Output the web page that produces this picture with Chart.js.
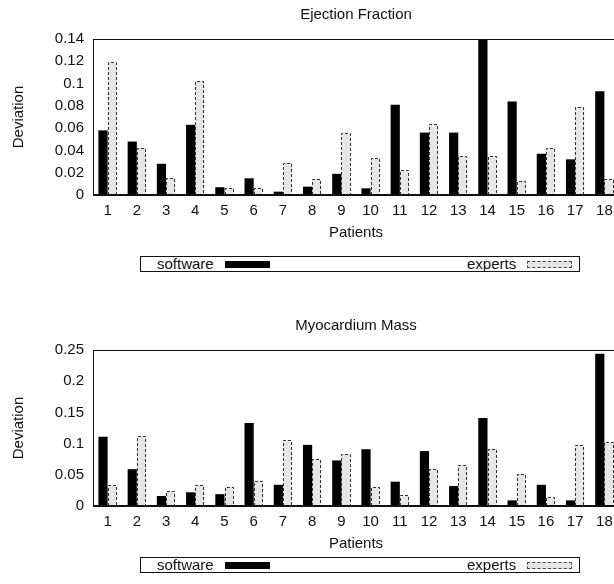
<!DOCTYPE html>
<html>
<head>
<meta charset="utf-8">
<script src="https://cdn.jsdelivr.net/npm/chart.js@4.4.1/dist/chart.umd.min.js"></script>
<style>
  html, body { margin: 0; padding: 0; background: #fff; overflow: hidden; }
  #page { position: relative; width: 614px; height: 584px; overflow: hidden; font-family: "Liberation Sans", Arial, sans-serif; color: #111; }
  .plot { position: absolute; left: 0; width: 640px; height: 250px; }
  .legend { position: absolute; left: 140px; width: 438px; height: 14px; border: 1px solid #111; font-size: 15px; line-height: 14px; }
  .legend span { position: absolute; top: 0; }
  .sw { position: absolute; top: 4px; width: 45px; height: 7px; box-sizing: border-box; }
  .sw.soft { left: 84px; background: #000; }
  .sw.exp { left: 386px; background: #e6e6e6; border: 1px dashed #444; }
</style>
</head>
<body>
<div id="page">
  <div class="plot" style="top:0"><canvas id="efChart"></canvas></div>
  <div class="legend" style="top:256px"><span style="left:16px">software</span><div class="sw soft"></div><span style="left:326px">experts</span><div class="sw exp"></div></div>
  <div class="plot" style="top:311px"><canvas id="mmChart"></canvas></div>
  <div class="legend" style="top:557px"><span style="left:16px">software</span><div class="sw soft"></div><span style="left:326px">experts</span><div class="sw exp"></div></div>
</div>
<script>
// values
const patients = ['1','2','3','4','5','6','7','8','9','10','11','12','13','14','15','16','17','18'];
const efSoftware = [0.058, 0.048, 0.028, 0.063, 0.007, 0.015, 0.003, 0.0075, 0.019, 0.006, 0.081, 0.056, 0.056, 0.15, 0.084, 0.037, 0.032, 0.093];
const efExperts  = [0.119, 0.042, 0.015, 0.102, 0.006, 0.006, 0.029, 0.014, 0.056, 0.033, 0.022, 0.064, 0.035, 0.035, 0.013, 0.042, 0.079, 0.014];
const mmSoftware = [0.111, 0.059, 0.016, 0.022, 0.019, 0.133, 0.034, 0.098, 0.073, 0.091, 0.039, 0.088, 0.032, 0.141, 0.009, 0.034, 0.009, 0.244];
const mmExperts  = [0.033, 0.112, 0.024, 0.033, 0.031, 0.040, 0.105, 0.075, 0.083, 0.030, 0.017, 0.060, 0.065, 0.092, 0.052, 0.014, 0.098, 0.102];

const el = id => document.getElementById(id);
const FONT = { family: '"Liberation Sans", Arial, sans-serif', size: 15 };
Chart.defaults.color = '#111';
Chart.defaults.font = FONT;

// frame round the plot area + dashed outline on the experts bars
const framePlugin = {
  id: 'frame',
  afterDatasetsDraw(chart) {
    const { ctx, chartArea: a } = chart;
    ctx.save();
    ctx.beginPath(); ctx.rect(a.left, a.top, a.right - a.left, a.bottom - a.top); ctx.clip();
    ctx.strokeStyle = '#333'; ctx.lineWidth = 1; ctx.setLineDash([3, 2]);
    chart.getDatasetMeta(1).data.forEach(b => {
      const l = Math.round(b.x - b.width / 2) + 0.5, r = Math.round(b.x + b.width / 2) - 0.5;
      const t = Math.round(b.y) + 0.5, bot = Math.round(b.base);
      ctx.beginPath(); ctx.moveTo(l, bot); ctx.lineTo(l, t); ctx.lineTo(r, t); ctx.lineTo(r, bot); ctx.stroke();
    });
    ctx.restore();
    ctx.save();
    ctx.strokeStyle = '#111'; ctx.lineWidth = 1;
    ctx.strokeRect(a.left + 0.5, a.top + 0.5, a.right - a.left, a.bottom - a.top);
    ctx.lineWidth = 2;
    ctx.beginPath(); ctx.moveTo(a.left, a.bottom); ctx.lineTo(a.right, a.bottom); ctx.stroke();
    ctx.restore();
  }
};

function makeChart(id, title, soft, exp, max, step) {
  return new Chart(el(id).getContext('2d'), {
    type: 'bar',
    data: { labels: patients, datasets: [
      { label: 'software', data: soft, backgroundColor: '#000', borderWidth: 0 },
      { label: 'experts', data: exp, backgroundColor: '#e6e6e6', borderWidth: 0 }
    ]},
    options: {
      responsive: true, maintainAspectRatio: false, animation: false,
      layout: { padding: { left: 0, right: 21, top: 0, bottom: 0 } },
      datasets: { bar: { categoryPercentage: 0.63, barPercentage: 1.0 } },
      plugins: {
        legend: { display: false }, tooltip: { enabled: false },
        title: { display: true, text: title, fullSize: false, font: { ...FONT, weight: 'normal' }, color: '#111', padding: { top: 6, bottom: 15 } }
      },
      scales: {
        x: {
          grid: { display: false, drawTicks: false }, border: { display: false },
          ticks: { padding: 7, font: FONT, color: '#111' },
          title: { display: true, text: 'Patients', font: FONT, color: '#111', padding: { top: 0, bottom: 8 } },
          afterFit: s => { s.height = 55; }
        },
        y: {
          min: 0, max: max,
          grid: { display: false, drawTicks: false }, border: { display: false },
          ticks: { stepSize: step, padding: 9, font: FONT, color: '#111', callback: v => String(+v.toFixed(2)) },
          title: { display: true, text: 'Deviation', font: FONT, color: '#111', padding: { top: 10, bottom: 0 } },
          afterFit: s => { s.width = 93; }
        }
      }
    },
    plugins: [framePlugin]
  });
}

window.addEventListener('load', () => {
  makeChart('efChart', 'Ejection Fraction', efSoftware, efExperts, 0.14, 0.02);
  makeChart('mmChart', 'Myocardium Mass', mmSoftware, mmExperts, 0.25, 0.05);
});
</script>
</body>
</html>
